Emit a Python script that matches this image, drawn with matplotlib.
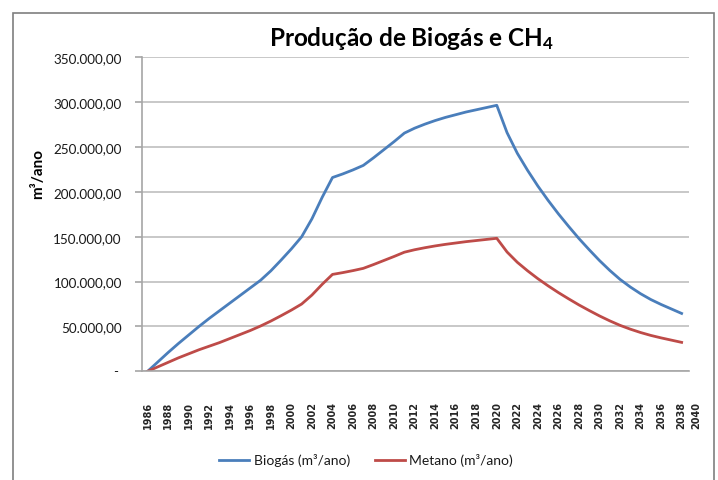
import matplotlib
matplotlib.use("Agg")
from matplotlib import pyplot as plt
from matplotlib.patches import Rectangle
from matplotlib.transforms import ScaledTranslation
from matplotlib.ticker import FuncFormatter

plt.rcParams['font.family'] = ['Lato', 'DejaVu Sans']

# anos e producao (m3/ano)
anos = list(range(1986, 2039))
biogas = [0, 10500, 21000, 31000, 40500, 50000, 59000, 67500, 76000, 84500,
          93000, 101500, 112000, 124000, 136500, 150000, 170000, 194000, 216000, 220000,
          224500, 229500, 238000, 247000, 256000, 265500, 271000, 275500, 279500, 283000,
          286000, 289000, 291500, 294000, 296500, 266000, 243000, 224000, 206500, 190500,
          175500, 161500, 148000, 135500, 123500, 112500, 102500, 94000, 86500, 80000,
          74500, 69500, 64500]
metano = [0, 5000, 10000, 15000, 19500, 24000, 28000, 32000, 36500, 41000,
          45500, 50500, 56000, 62000, 68250, 75000, 85000, 97000, 108000, 110000,
          112250, 114750, 119000, 123500, 128000, 132750, 135500, 137750, 139750, 141500,
          143000, 144500, 145750, 147000, 148250, 133000, 121500, 112000, 103250, 95250,
          87750, 80750, 74000, 67750, 61750, 56250, 51250, 47000, 43250, 40000,
          37250, 34750, 32250]
rotulos_x = list(range(1986, 2041, 2))
ticks_y = [0, 50000, 100000, 150000, 200000, 250000, 300000, 350000]

W, H = 718, 481
fig = plt.figure(figsize=(W / 100, H / 100), dpi=100)
ax = fig.add_axes([142 / W, 1 - 372.3 / H, 546.6 / W, 314 / H])

ax.plot(anos, biogas, color='#4A7EBB', lw=2.0, label='Biogás (m³/ano)')
ax.plot(anos, metano, color='#BE4B48', lw=2.0, label='Metano (m³/ano)')

ax.set_xlim(1985.45, 2038.68)
ax.set_ylim(0, 350000)

# eixo y no formato brasileiro
def fmt_br(v, pos):
    if v == 0:
        return ''
    s = f"{v:,.2f}"
    return s.replace(',', 'X').replace('.', ',').replace('X', '.')

ax.set_yticks(ticks_y)
ax.yaxis.set_major_formatter(FuncFormatter(fmt_br))
ax.tick_params(axis='y', length=5, color='#A6A6A6', width=1.2, pad=9.5,
               labelsize=9.7, labelcolor='#1A1A1A')
ax.text(-0.049, 0, '-', transform=ax.get_yaxis_transform(), ha='center', va='center',
        fontsize=9.5, color='#1A1A1A')

xt = [a for a in rotulos_x if a <= 2038]
ax.set_xticks(xt)
ax.set_xticklabels([str(a) for a in xt], rotation=90, family='DejaVu Sans',
                   fontweight='bold', fontsize=7, color='#262626')
ax.tick_params(axis='x', length=0, pad=21.5)
# ultimo rotulo (2040) fica fora da area de dados
off = ScaledTranslation(0, -0.30, fig.dpi_scale_trans)
ax.text(2039.4, 0, '2040', transform=ax.get_xaxis_transform() + off, rotation=90,
        ha='center', va='top', family='DejaVu Sans', fontweight='bold', fontsize=7,
        color='#262626', clip_on=False)

ax.grid(axis='y', color='#BFBFBF', lw=1.2)
ax.set_axisbelow(True)
for s in ['top', 'right']:
    ax.spines[s].set_visible(False)
for s in ['left', 'bottom']:
    ax.spines[s].set_color('#A6A6A6')
    ax.spines[s].set_linewidth(1.2)

fig.text(411 / W, 1 - 38 / H, r'Produção de Biogás e CH$\mathregular{_4}$',
         ha='center', va='center', fontsize=17.5, fontweight='bold', color='black')
fig.text(38 / W, 1 - 174 / H, 'm³/ano', rotation=90, ha='center', va='center',
         fontsize=11, fontweight='bold')

fig.legend(loc='center', bbox_to_anchor=(366 / W, 1 - 461 / H), ncol=2, frameon=False,
           fontsize=10, handlelength=2.2, handletextpad=0.3, columnspacing=1.8,
           labelcolor='#1A1A1A')

fig.add_artist(Rectangle((13 / W, -0.05), (714 - 13) / W, 1.05 - 14 / H,
                         transform=fig.transFigure, fill=False, ec='#7F7F7F', lw=1.2))

plt.savefig('out.png', dpi=100)
